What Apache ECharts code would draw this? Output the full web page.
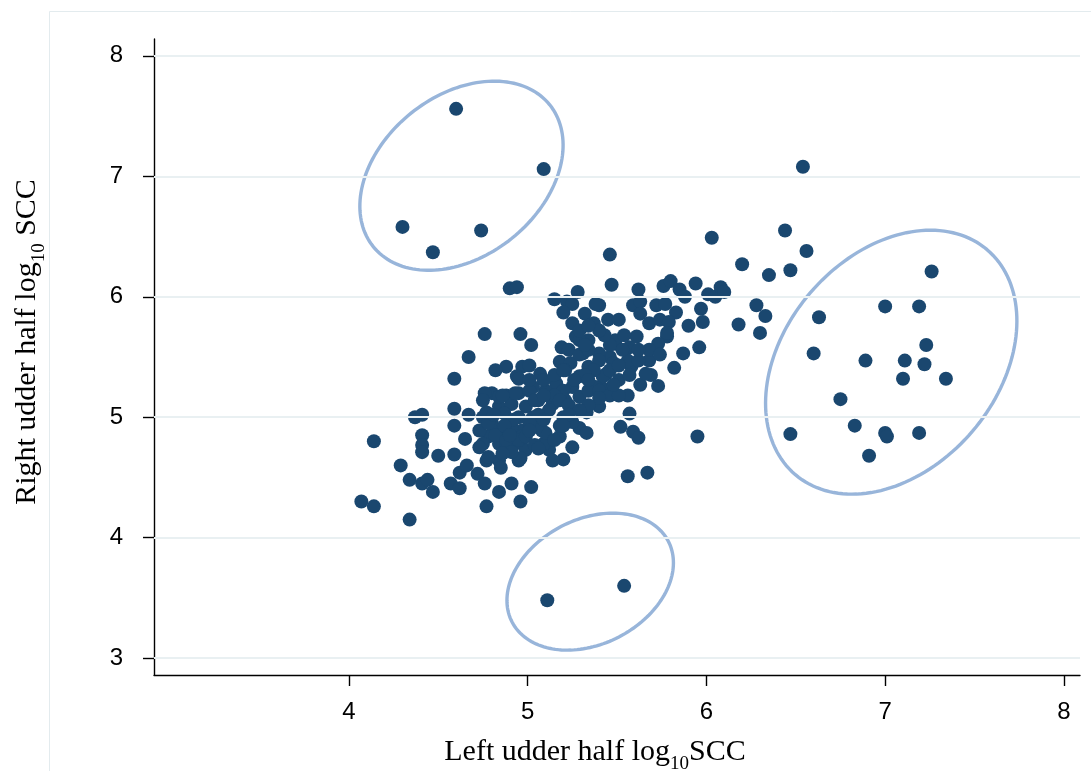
<!DOCTYPE html>
<html>
<head>
<meta charset="utf-8">
<script src="https://cdn.jsdelivr.net/npm/echarts@6/dist/echarts.min.js"></script>
<style>
  html, body { margin: 0; padding: 0; background: #ffffff; }
  #chart { width: 1091px; height: 771px; }
</style>
</head>
<body>
<div id="chart"></div>
<script>
// Axis ticks (log10 somatic cell count)
const xTicks = [4, 5, 6, 7, 8];
const yTicks = [3, 4, 5, 6, 7, 8];

// Quarters with a high right half but ordinary left half
const circledUpper = [
  [4.60, 7.56], [5.09, 7.06], [4.30, 6.58], [4.47, 6.37], [4.74, 6.55]
];

// Quarters with a very low right half
const circledLower = [
  [5.11, 3.48], [5.54, 3.60]
];

// Quarters with a high left half
const circledRight = [
  [7.26, 6.21], [7.00, 5.92], [7.19, 5.92], [6.63, 5.83], [7.23, 5.60],
  [6.60, 5.53], [6.89, 5.47], [7.11, 5.47], [7.22, 5.44], [7.10, 5.32],
  [7.34, 5.32], [6.75, 5.15], [6.83, 4.93], [6.47, 4.86], [7.00, 4.87],
  [7.01, 4.84], [7.19, 4.87], [6.91, 4.68]
];

// Remaining cows: left vs right udder half
const mainCloud = [
  [6.54, 7.08], [6.44, 6.55], [6.56, 6.38], [6.35, 6.18], [6.47, 6.22],
  [6.20, 6.27], [6.03, 6.49], [6.28, 5.93], [6.33, 5.84], [6.30, 5.70],
  [6.18, 5.77], [5.46, 6.35], [5.47, 6.10], [5.62, 6.06], [5.76, 6.09],
  [5.80, 6.13], [5.85, 6.06], [5.88, 6.00], [5.94, 6.11], [6.01, 6.02],
  [6.05, 6.00], [6.08, 6.08], [6.10, 6.04], [5.59, 5.93], [5.63, 5.96],
  [5.72, 5.93], [5.77, 5.94], [5.83, 5.87], [5.97, 5.90], [5.98, 5.79],
  [5.90, 5.76], [5.63, 5.86], [5.68, 5.78], [5.74, 5.81], [5.79, 5.79],
  [5.40, 5.93], [5.45, 5.81], [5.78, 5.67], [5.73, 5.61], [5.96, 5.58],
  [5.87, 5.53], [5.82, 5.41], [5.69, 5.35], [5.73, 5.26], [5.63, 5.27],
  [5.56, 5.18], [5.61, 5.67], [5.49, 5.61], [5.57, 5.58], [5.68, 5.47],
  [5.58, 5.42], [5.46, 5.50], [5.44, 5.36], [5.42, 5.24], [5.57, 5.03],
  [4.90, 6.07], [4.94, 6.08], [4.76, 5.69], [4.96, 5.69], [5.02, 5.60],
  [5.15, 5.98], [5.28, 6.04], [5.22, 5.96], [5.25, 5.94], [5.20, 5.87],
  [5.25, 5.78], [5.32, 5.86], [5.38, 5.94], [5.37, 5.78], [5.78, 5.70],
  [5.52, 4.92], [5.59, 4.88], [5.62, 4.83], [5.33, 5.04], [5.40, 5.09],
  [5.29, 4.91], [5.33, 4.87], [5.20, 4.65], [5.12, 4.73], [5.09, 4.78],
  [5.18, 4.84], [5.25, 4.75], [4.97, 5.42], [5.01, 5.43], [4.88, 5.42],
  [4.82, 5.39], [5.07, 5.36], [5.19, 5.58], [5.18, 5.46], [5.27, 5.67],
  [5.34, 5.64], [5.49, 5.64], [5.48, 5.45], [5.56, 5.47], [5.40, 5.53],
  [5.31, 5.53], [5.24, 5.45], [5.34, 5.42], [5.29, 5.34], [5.42, 5.34],
  [5.38, 5.25], [5.25, 5.25], [5.16, 5.28], [5.10, 5.22], [5.03, 5.25],
  [4.95, 5.20], [4.88, 5.18], [4.80, 5.20], [4.76, 5.20], [4.84, 5.09],
  [4.91, 5.11], [4.99, 5.09], [5.06, 5.14], [5.14, 5.11], [5.21, 5.14],
  [5.29, 5.17], [5.34, 5.22], [4.87, 5.03], [4.95, 5.00], [5.03, 5.00],
  [5.10, 5.02], [5.20, 5.00], [5.25, 4.96], [5.08, 4.89], [4.97, 4.89],
  [4.91, 4.92], [4.80, 4.95], [4.75, 5.00], [4.78, 4.84], [4.84, 4.78],
  [4.93, 4.78], [4.99, 4.73], [4.95, 4.64], [4.84, 4.64], [4.77, 4.64],
  [4.75, 4.78], [5.67, 4.54], [5.56, 4.51], [4.94, 5.34], [5.29, 5.64],
  [5.53, 5.56], [5.21, 5.39], [5.14, 4.64], [5.10, 4.87], [4.97, 4.84],
  [4.86, 4.89], [4.88, 4.78], [5.66, 5.36], [4.59, 5.32], [4.37, 5.00],
  [4.41, 5.02], [4.14, 4.80], [4.41, 4.85], [4.41, 4.77], [4.41, 4.71],
  [4.50, 4.68], [4.59, 5.07], [4.59, 4.93], [4.29, 4.60], [4.34, 4.48],
  [4.41, 4.45], [4.44, 4.48], [4.47, 4.38], [4.59, 4.69], [4.57, 4.45],
  [4.62, 4.41], [4.62, 4.54], [4.66, 4.60], [4.72, 4.53], [4.76, 4.45],
  [4.84, 4.38], [4.91, 4.45], [5.02, 4.42], [4.96, 4.30], [4.77, 4.26],
  [4.07, 4.30], [4.14, 4.26], [4.34, 4.15], [4.85, 4.58], [4.65, 4.82],
  [4.67, 5.02], [4.73, 4.75], [4.78, 4.67], [4.73, 4.89], [4.78, 4.95],
  [4.82, 4.85], [4.88, 4.81], [4.96, 4.66], [4.95, 4.81], [4.99, 4.84],
  [4.91, 4.71], [4.86, 4.70], [4.77, 5.04], [4.75, 5.14], [4.84, 5.17],
  [4.93, 5.20], [5.01, 5.22], [5.05, 4.92], [4.67, 5.50], [4.95, 5.32],
  [5.01, 5.31], [4.86, 5.18], [5.95, 4.84],
  [5.23, 5.56], [5.29, 5.52], [5.34, 5.56], [5.40, 5.47], [5.46, 5.60],
  [5.37, 5.39], [5.32, 5.35], [5.26, 5.31], [5.20, 5.22], [5.15, 5.18],
  [5.09, 5.31], [5.18, 5.14], [5.23, 5.10], [5.12, 5.06], [5.06, 5.02],
  [5.01, 4.96], [5.04, 5.14], [5.09, 5.18], [5.15, 5.35], [5.20, 5.39],
  [5.34, 5.31], [5.40, 5.22], [5.46, 5.39], [5.51, 5.43], [5.51, 5.31],
  [5.46, 5.18], [5.40, 5.16], [5.34, 5.10], [5.29, 5.06], [5.23, 5.02],
  [5.18, 4.93], [5.09, 4.98], [5.01, 4.89], [4.92, 4.98], [4.87, 4.93],
  [4.81, 5.02], [4.90, 4.85], [5.04, 4.77], [5.06, 4.74], [5.15, 4.81],
  [5.20, 4.93], [5.51, 5.18], [5.48, 5.27], [5.57, 5.35], [5.62, 5.47],
  [5.68, 5.56], [5.74, 5.52], [5.62, 5.56], [5.54, 5.68], [5.43, 5.68],
  [5.32, 5.60], [5.40, 5.72], [5.29, 5.72], [5.34, 5.76], [5.51, 5.81]
];

// Outline ellipses around the three groups: centre and the two conjugate
// semi-axis vectors, all in data units (upper, right, lower group)
const ellipseCenter = [[4.630, 7.005], [7.034, 5.457], [5.350, 3.635]];
const ellipseAxisA  = [[0.4936, 0.5886], [0.5361, 0.9341], [0.4370, 0.3354]];
const ellipseAxisB  = [[0.2820, -0.5195], [0.4547, -0.5729], [0.1608, -0.4591]];

const dotColor = '#1a476f';
const ringColor = '#98b5da';
const serif = '"Liberation Serif", "Times New Roman", serif';
const sans = '"Liberation Sans", Arial, sans-serif';

const titleRich = {
  n: { fontFamily: serif, fontSize: 30, color: '#000', verticalAlign: 'middle', lineHeight: 36 },
  s: { fontFamily: serif, fontSize: 19, color: '#000', verticalAlign: 'bottom', lineHeight: 44 }
};

const chart = echarts.init(document.getElementById('chart'), null, { renderer: 'canvas' });

const allPoints = mainCloud.concat(circledUpper, circledLower, circledRight);

chart.setOption({
  animation: false,
  backgroundColor: '#ffffff',
  graphic: [{
    type: 'rect',
    shape: { x: 49.5, y: 11.5, width: 1100, height: 800 },
    style: { fill: 'none', stroke: '#e3ebee', lineWidth: 1 },
    silent: true,
    z: -10
  }],
  grid: { left: 154, right: 11, top: 39, bottom: 96, containLabel: false, outerBoundsMode: 'none' },
  xAxis: {
    type: 'value',
    min: 2.91,
    max: 8.09,
    name: '{n|Left udder half log}{s|10}{n|SCC}',
    nameLocation: 'middle',
    nameGap: 55,
    nameTextStyle: { rich: titleRich, padding: [0, 44, 0, 0] },
    axisLine: { show: true, onZero: false, lineStyle: { color: '#000', width: 1.4 } },
    axisTick: { show: true, length: 11, customValues: xTicks, lineStyle: { color: '#000', width: 1.4 } },
    axisLabel: { show: true, customValues: xTicks, margin: 25, fontFamily: sans, fontSize: 24, color: '#000' },
    splitLine: { show: false }
  },
  yAxis: {
    type: 'value',
    min: 2.86,
    max: 8.14,
    name: '{n|Right udder half log}{s|10}{n| SCC}',
    nameLocation: 'middle',
    nameGap: 105,
    nameRotate: 90,
    nameTextStyle: { rich: titleRich, padding: [0, 0, 0, 30] },
    axisLine: { show: true, onZero: false, lineStyle: { color: '#000', width: 1.4 } },
    axisTick: { show: true, length: 11, customValues: yTicks, lineStyle: { color: '#000', width: 1.4 } },
    axisLabel: { show: true, customValues: yTicks, margin: 31, fontFamily: sans, fontSize: 24, color: '#000' },
    splitLine: { show: false }
  },
  series: [
    {
      // horizontal reference lines at each labelled tick
      type: 'line',
      data: [],
      z: 1,
      silent: true,
      markLine: {
        silent: true,
        symbol: ['none', 'none'],
        label: { show: false },
        lineStyle: { color: '#e9f0f2', width: 2, type: 'solid' },
        data: yTicks.map(v => ({ yAxis: v }))
      }
    },
    {
      type: 'scatter',
      data: allPoints,
      symbol: 'circle',
      symbolSize: 14,
      itemStyle: { color: dotColor, opacity: 1 },
      z: 3,
      silent: true
    },
    {
      type: 'custom',
      data: ellipseCenter,
      encode: { x: 0, y: 1 },
      z: 4,
      silent: true,
      clip: false,
      renderItem: function (params, api) {
        const i = params.dataIndex;
        const c = ellipseCenter[i];
        const a = ellipseAxisA[i];
        const b = ellipseAxisB[i];
        const pts = [];
        const steps = 160;
        for (let k = 0; k < steps; k++) {
          const t = (k / steps) * Math.PI * 2;
          const ct = Math.cos(t), st = Math.sin(t);
          pts.push(api.coord([c[0] + a[0] * ct + b[0] * st, c[1] + a[1] * ct + b[1] * st]));
        }
        return {
          type: 'polygon',
          shape: { points: pts },
          style: { fill: 'none', stroke: ringColor, lineWidth: 3.4 }
        };
      }
    }
  ]
});
</script>
</body>
</html>
